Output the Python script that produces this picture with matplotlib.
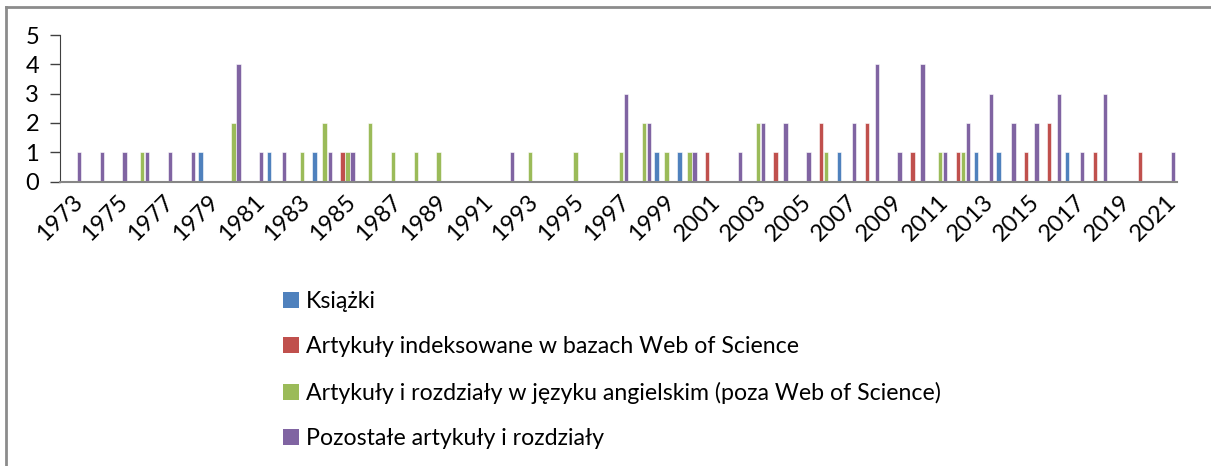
import numpy as np
import matplotlib.pyplot as plt
from matplotlib.lines import Line2D
from matplotlib.patches import Patch

plt.rcParams['font.family'] = ['Lato', 'DejaVu Sans']

years = list(range(1973, 2022))

# values per year (only non-zero years listed)
ksiazki = {1979: 1, 1982: 1, 1984: 1, 1999: 1, 2000: 1, 2007: 1, 2013: 1,
           2014: 1, 2017: 1}
wos = {1985: 1, 2001: 1, 2004: 1, 2006: 2, 2008: 2, 2010: 1, 2012: 1,
       2015: 1, 2016: 2, 2018: 1, 2020: 1}
angielski = {1976: 1, 1980: 2, 1983: 1, 1984: 2, 1985: 1, 1986: 2, 1987: 1,
             1988: 1, 1989: 1, 1993: 1, 1995: 1, 1997: 1, 1998: 2, 1999: 1,
             2000: 1, 2003: 2, 2006: 1, 2011: 1, 2012: 1}
pozostale = {1973: 1, 1974: 1, 1975: 1, 1976: 1, 1977: 1, 1978: 1, 1980: 4,
             1981: 1, 1982: 1, 1984: 1, 1985: 1, 1992: 1, 1997: 3, 1998: 2,
             2000: 1, 2002: 1, 2003: 2, 2004: 2, 2005: 1, 2007: 2, 2008: 4,
             2009: 1, 2010: 4, 2011: 1, 2012: 2, 2013: 3, 2014: 2, 2015: 2,
             2016: 3, 2017: 1, 2018: 3, 2021: 1}

series = [
    ("Książki", ksiazki, '#4F81BD'),
    ("Artykuły indeksowane w bazach Web of Science", wos, '#C0504D'),
    ("Artykuły i rozdziały w języku angielskim (poza Web of Science)", angielski, '#9BBB59'),
    ("Pozostałe artykuły i rozdziały", pozostale, '#8064A2'),
]

W, H = 1211, 466
fig = plt.figure(figsize=(W / 100, H / 100), dpi=100)
ax = fig.add_axes([60 / W, 1 - 181.5 / H, (1177 - 60) / W, (181.5 - 35) / H])

x = np.arange(len(years))
offsets = [-0.33, -0.11, 0.11, 0.33]
for (name, data, color), off in zip(series, offsets):
    vals = [data.get(y, 0) for y in years]
    ax.bar(x + off, vals, width=0.19, color=color, edgecolor='white',
           linewidth=0.4, label=name)

ax.set_xlim(-0.5, len(years) - 0.5)
ax.set_ylim(0, 5)
ax.set_yticks(range(0, 6))
ax.set_xticks(x[::2])
ax.set_xticklabels([str(y) for y in years[::2]], rotation=45, ha='right',
                   va='top', rotation_mode='anchor', fontsize=17)
ax.tick_params(axis='x', length=0, pad=7)
ax.tick_params(axis='y', length=7, width=1, color='#404040', labelsize=17,
               pad=8)

for side in ['top', 'right']:
    ax.spines[side].set_visible(False)
ax.spines['left'].set_color('#404040')
ax.spines['bottom'].set_color('#868686')
ax.spines['bottom'].set_linewidth(1.5)

# legend below the plot, one entry per row
handles = [Patch(facecolor=c, edgecolor='none') for _, _, c in series]
labels = [n for n, _, _ in series]
fig.legend(handles, labels, loc='upper left',
           bbox_to_anchor=(262 / W, 1 - 270 / H), frameon=False,
           fontsize=16.7, handlelength=0.68, handleheight=0.68,
           handletextpad=0.3, labelspacing=1.05)

# chart frame (cut on right and bottom)
fig.add_artist(Line2D([6 / W, 1], [1 - 7 / H, 1 - 7 / H], color='#8c8c8c',
                      linewidth=2, transform=fig.transFigure))
fig.add_artist(Line2D([6 / W, 6 / W], [0, 1 - 7 / H], color='#8c8c8c',
                      linewidth=2, transform=fig.transFigure))

plt.savefig('out.png', dpi=100)
plt.close()
